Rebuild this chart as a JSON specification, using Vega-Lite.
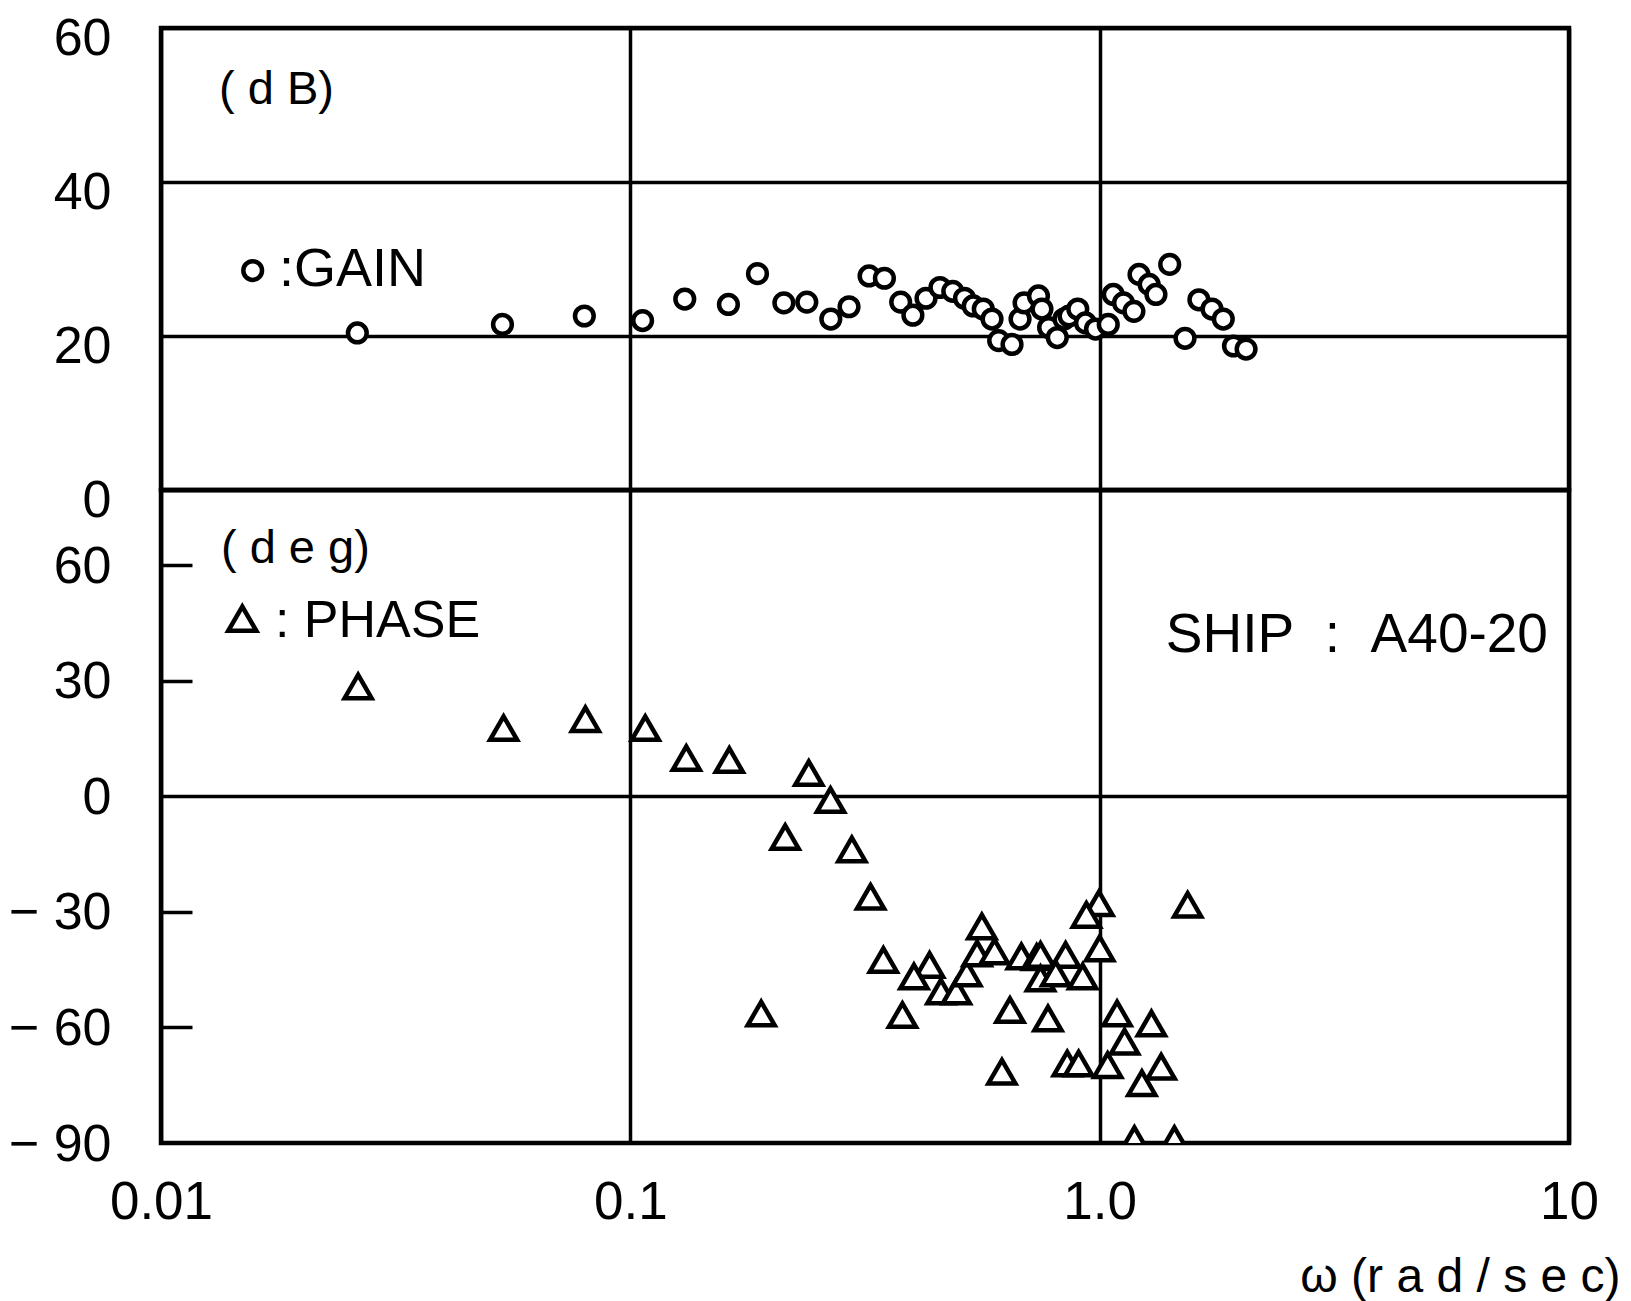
{
  "$schema": "https://vega.github.io/schema/vega-lite/v6.json",
  "background": "white",
  "padding": {"left": 6, "top": 9, "right": 5, "bottom": 5},
  "spacing": 0,
  "bounds": "flush",
  "config": {
    "view": {"stroke": "black", "strokeWidth": 4.5},
    "font": "Liberation Sans",
    "axis": {
      "labelFont": "Liberation Sans",
      "labelColor": "black",
      "titleFont": "Liberation Sans",
      "titleColor": "black",
      "titleFontWeight": "normal",
      "gridColor": "black",
      "gridWidth": 3.5,
      "gridOpacity": 1,
      "domain": false
    }
  },
  "datasets": {
    "gain": [
      {"w": 0.0262, "v": 20.4}, {"w": 0.0534, "v": 21.5}, {"w": 0.0798, "v": 22.6}, {"w": 0.1062, "v": 22.0},
      {"w": 0.1306, "v": 24.8}, {"w": 0.1618, "v": 24.1}, {"w": 0.1866, "v": 28.1}, {"w": 0.2124, "v": 24.3},
      {"w": 0.2377, "v": 24.4}, {"w": 0.2674, "v": 22.2}, {"w": 0.2924, "v": 23.8}, {"w": 0.3226, "v": 27.8},
      {"w": 0.3478, "v": 27.5}, {"w": 0.3767, "v": 24.4}, {"w": 0.4000, "v": 22.7}, {"w": 0.4266, "v": 24.9},
      {"w": 0.4567, "v": 26.3}, {"w": 0.4864, "v": 25.8}, {"w": 0.5152, "v": 24.9}, {"w": 0.5376, "v": 23.9},
      {"w": 0.5649, "v": 23.5}, {"w": 0.5897, "v": 22.2}, {"w": 0.6092, "v": 19.4}, {"w": 0.6505, "v": 18.9},
      {"w": 0.6766, "v": 22.2}, {"w": 0.6902, "v": 24.3}, {"w": 0.7406, "v": 25.2}, {"w": 0.7534, "v": 23.5},
      {"w": 0.7784, "v": 21.1}, {"w": 0.8122, "v": 19.8}, {"w": 0.8393, "v": 22.2}, {"w": 0.8604, "v": 22.6},
      {"w": 0.8982, "v": 23.5}, {"w": 0.9326, "v": 21.7}, {"w": 0.9799, "v": 20.9}, {"w": 1.043, "v": 21.5},
      {"w": 1.069, "v": 25.4}, {"w": 1.124, "v": 24.3}, {"w": 1.183, "v": 23.2}, {"w": 1.213, "v": 28.0},
      {"w": 1.275, "v": 26.7}, {"w": 1.318, "v": 25.4}, {"w": 1.410, "v": 29.3}, {"w": 1.520, "v": 19.7},
      {"w": 1.627, "v": 24.7}, {"w": 1.735, "v": 23.5}, {"w": 1.834, "v": 22.2}, {"w": 1.928, "v": 18.7},
      {"w": 2.051, "v": 18.3}
    ],
    "phase": [
      {"w": 0.0263, "v": 28.5}, {"w": 0.0537, "v": 17.7}, {"w": 0.0802, "v": 20.0}, {"w": 0.1076, "v": 17.7},
      {"w": 0.1316, "v": 9.9}, {"w": 0.1625, "v": 9.4}, {"w": 0.240, "v": 6.0}, {"w": 0.267, "v": -1.0},
      {"w": 0.2138, "v": -10.6}, {"w": 0.2965, "v": -13.8}, {"w": 0.325, "v": -26.1}, {"w": 0.561, "v": -33.8},
      {"w": 0.9966, "v": -27.8}, {"w": 0.937, "v": -30.8}, {"w": 1.54, "v": -28.2}, {"w": 1.00, "v": -39.5},
      {"w": 0.346, "v": -42.5}, {"w": 0.434, "v": -43.8}, {"w": 0.402, "v": -46.8}, {"w": 0.459, "v": -50.7},
      {"w": 0.495, "v": -50.7}, {"w": 0.521, "v": -46.0}, {"w": 0.548, "v": -40.8}, {"w": 0.597, "v": -40.3},
      {"w": 0.681, "v": -41.6}, {"w": 0.734, "v": -41.8}, {"w": 0.748, "v": -41.2}, {"w": 0.846, "v": -41.2},
      {"w": 0.748, "v": -47.3}, {"w": 0.806, "v": -46.0}, {"w": 0.920, "v": -46.8}, {"w": 0.190, "v": -56.4},
      {"w": 0.380, "v": -56.8}, {"w": 0.644, "v": -55.5}, {"w": 0.776, "v": -57.7}, {"w": 1.089, "v": -56.4},
      {"w": 1.289, "v": -59.0}, {"w": 1.130, "v": -63.7}, {"w": 0.619, "v": -71.5}, {"w": 0.853, "v": -69.4},
      {"w": 0.902, "v": -69.4}, {"w": 1.040, "v": -69.8}, {"w": 1.352, "v": -70.2}, {"w": 1.230, "v": -74.5},
      {"w": 1.186, "v": -89.0}, {"w": 1.443, "v": -89.0}
    ]
  },
  "vconcat": [
    {
      "width": 1408,
      "height": 462,
      "encoding": {
        "x": {
          "field": "w", "type": "quantitative",
          "scale": {"type": "log", "domain": [0.01, 10], "nice": false},
          "axis": {"values": [0.01, 0.1, 1, 10], "grid": true, "labels": false, "ticks": false, "title": null}
        },
        "y": {
          "field": "v", "type": "quantitative",
          "scale": {"domain": [0, 60], "nice": false, "zero": false},
          "axis": {"values": [0, 20, 40, 60], "grid": true, "ticks": false, "title": null,
                   "labelFontSize": 52, "labelPadding": 50, "labelOffset": 10}
        }
      },
      "layer": [
        {
          "data": {"name": "gain"},
          "mark": {"type": "point", "shape": "circle", "size": 350, "filled": true, "fill": "white", "fillOpacity": 1, "stroke": "black", "strokeWidth": 4.5, "opacity": 1}
        },
        {
          "data": {"values": [{"w": 0.01568, "v": 28.5}]},
          "mark": {"type": "point", "shape": "circle", "size": 350, "filled": true, "fill": "white", "fillOpacity": 1, "stroke": "black", "strokeWidth": 4.5, "opacity": 1}
        },
        {
          "data": {"values": [{"w": 0.01329, "v": 52.0, "label": "( d B)"}]},
          "mark": {"type": "text", "align": "left", "baseline": "middle", "fontSize": 47, "font": "Liberation Sans", "color": "black"},
          "encoding": {"text": {"field": "label"}}
        },
        {
          "data": {"values": [{"w": 0.01784, "v": 28.6, "label": ":GAIN"}]},
          "mark": {"type": "text", "align": "left", "baseline": "middle", "fontSize": 54, "font": "Liberation Sans", "color": "black"},
          "encoding": {"text": {"field": "label"}}
        }
      ]
    },
    {
      "width": 1408,
      "height": 653,
      "encoding": {
        "x": {
          "field": "w", "type": "quantitative",
          "scale": {"type": "log", "domain": [0.01, 10], "nice": false},
          "axis": {
            "values": [0.01, 0.1, 1, 10], "grid": true, "ticks": false,
            "labelFontSize": 53, "labelPadding": 33, "labelFlush": false, "labelOverlap": false, "labelBound": false,
            "labelExpr": "datum.value == 1 ? '1.0' : datum.value == 10 ? '10' : datum.value == 0.1 ? '0.1' : '0.01'",
            "title": "ω (r a d / s e c)", "titleFontSize": 48, "titleAnchor": "end", "titleAlign": "right",
            "titleX": 1459, "titleY": 134, "titleBaseline": "middle"
          }
        },
        "y": {
          "field": "v", "type": "quantitative",
          "scale": {"domain": [-90, 79.5], "nice": false, "zero": false},
          "axis": {
            "values": [-90, -60, -30, 0, 30, 60],
            "grid": true,
            "gridOpacity": {"condition": {"test": "datum.value === 0", "value": 1}, "value": 0},
            "ticks": true, "tickSize": -31, "tickWidth": 3.5, "tickColor": "black",
            "tickOpacity": {"condition": {"test": "datum.value === 0 || datum.value === -90", "value": 0}, "value": 1},
            "labelExpr": "datum.value < 0 ? '\u2212 ' + abs(datum.value) : datum.label",
            "labelFontSize": 52, "labelPadding": 81, "labelOffset": 1, "title": null
          }
        }
      },
      "layer": [
        {
          "data": {"name": "phase"},
          "mark": {"type": "point", "shape": "triangle-up", "size": 730, "filled": true, "fill": "white", "fillOpacity": 1, "stroke": "black", "strokeWidth": 4.5, "opacity": 1, "clip": true}
        },
        {
          "data": {"values": [{"w": 0.0149, "v": 46.1}]},
          "mark": {"type": "point", "shape": "triangle-up", "size": 790, "filled": true, "fill": "white", "fillOpacity": 1, "stroke": "black", "strokeWidth": 4.5, "opacity": 1}
        },
        {
          "data": {"values": [{"w": 0.01342, "v": 64.2, "label": "( d e g)"}]},
          "mark": {"type": "text", "align": "left", "baseline": "middle", "fontSize": 47, "font": "Liberation Sans", "color": "black"},
          "encoding": {"text": {"field": "label"}}
        },
        {
          "data": {"values": [{"w": 0.01749, "v": 45.5, "label": ": PHASE"}]},
          "mark": {"type": "text", "align": "left", "baseline": "middle", "fontSize": 52, "font": "Liberation Sans", "color": "black"},
          "encoding": {"text": {"field": "label"}}
        },
        {
          "data": {"values": [{"w": 9.02, "v": 41.8, "label": "SHIP\u00a0\u00a0:\u00a0\u00a0A40-20"}]},
          "mark": {"type": "text", "align": "right", "baseline": "middle", "fontSize": 55, "font": "Liberation Sans", "color": "black"},
          "encoding": {"text": {"field": "label"}}
        }
      ]
    }
  ]
}
